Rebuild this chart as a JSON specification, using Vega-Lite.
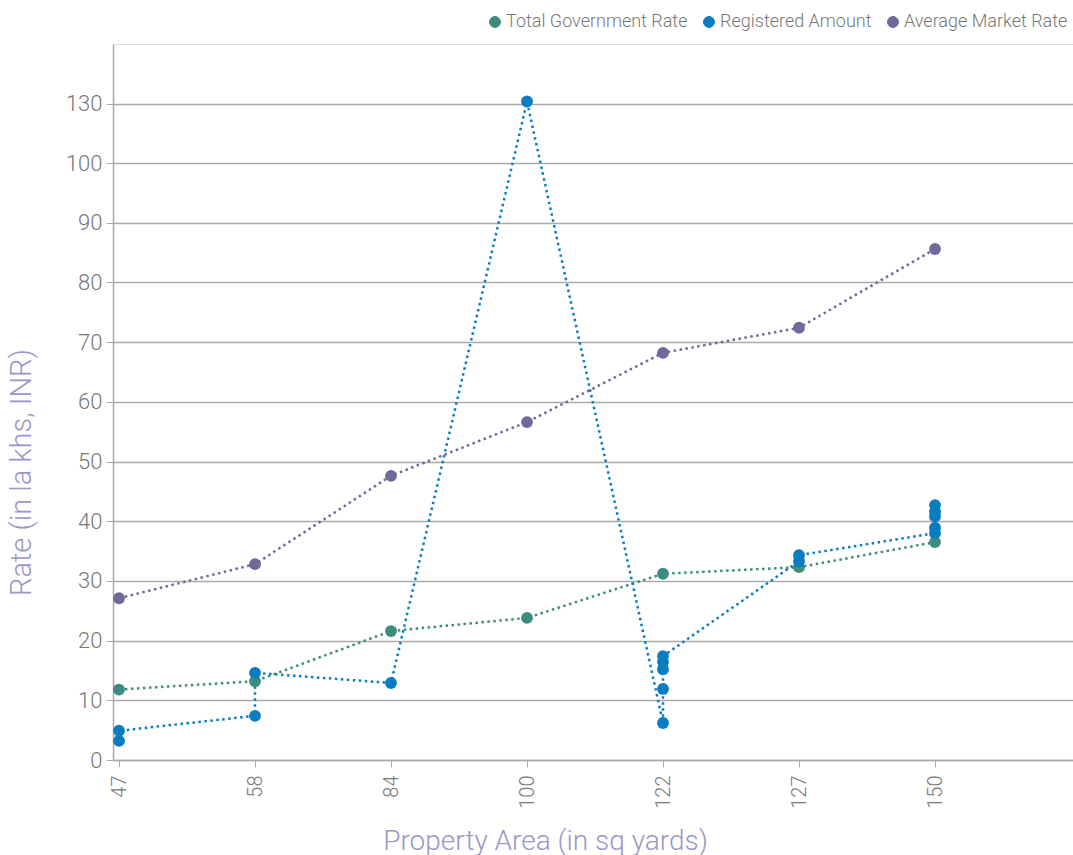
{
  "$schema": "https://vega.github.io/schema/vega-lite/v6.json",
  "width": 960,
  "height": 716,
  "autosize": "none",
  "padding": {"left": 113, "top": 44, "right": 0, "bottom": 95},
  "background": "white",
  "config": {
    "font": "Roboto",
    "view": {"stroke": "#dddddd", "strokeWidth": 1}
  },
  "data": {
    "values": [
      {"area": "47", "series": "Total Government Rate", "rate": 11.8, "i": 0},
      {"area": "58", "series": "Total Government Rate", "rate": 13.2, "i": 1},
      {"area": "84", "series": "Total Government Rate", "rate": 21.6, "i": 2},
      {"area": "100", "series": "Total Government Rate", "rate": 23.8, "i": 3},
      {"area": "122", "series": "Total Government Rate", "rate": 31.2, "i": 4},
      {"area": "127", "series": "Total Government Rate", "rate": 32.3, "i": 5},
      {"area": "150", "series": "Total Government Rate", "rate": 36.5, "i": 6},
      {"area": "47", "series": "Registered Amount", "rate": 3.2, "i": 0},
      {"area": "47", "series": "Registered Amount", "rate": 4.9, "i": 1},
      {"area": "58", "series": "Registered Amount", "rate": 7.4, "i": 2},
      {"area": "58", "series": "Registered Amount", "rate": 14.6, "i": 3},
      {"area": "84", "series": "Registered Amount", "rate": 12.9, "i": 4},
      {"area": "100", "series": "Registered Amount", "rate": 131, "i": 5},
      {"area": "122", "series": "Registered Amount", "rate": 6.2, "i": 6},
      {"area": "122", "series": "Registered Amount", "rate": 11.9, "i": 7},
      {"area": "122", "series": "Registered Amount", "rate": 15.2, "i": 8},
      {"area": "122", "series": "Registered Amount", "rate": 16.4, "i": 9},
      {"area": "122", "series": "Registered Amount", "rate": 17.4, "i": 10},
      {"area": "127", "series": "Registered Amount", "rate": 33.3, "i": 11},
      {"area": "127", "series": "Registered Amount", "rate": 34.3, "i": 12},
      {"area": "150", "series": "Registered Amount", "rate": 38.0, "i": 13},
      {"area": "150", "series": "Registered Amount", "rate": 38.9, "i": 14},
      {"area": "150", "series": "Registered Amount", "rate": 40.8, "i": 15},
      {"area": "150", "series": "Registered Amount", "rate": 41.6, "i": 16},
      {"area": "150", "series": "Registered Amount", "rate": 42.7, "i": 17},
      {"area": "47", "series": "Average Market Rate", "rate": 27.1, "i": 0},
      {"area": "58", "series": "Average Market Rate", "rate": 32.8, "i": 1},
      {"area": "84", "series": "Average Market Rate", "rate": 47.6, "i": 2},
      {"area": "100", "series": "Average Market Rate", "rate": 56.6, "i": 3},
      {"area": "122", "series": "Average Market Rate", "rate": 68.2, "i": 4},
      {"area": "127", "series": "Average Market Rate", "rate": 72.4, "i": 5},
      {"area": "150", "series": "Average Market Rate", "rate": 85.6, "i": 6}
    ]
  },
  "encoding": {
    "x": {
      "field": "area",
      "type": "ordinal",
      "sort": ["47", "58", "84", "100", "122", "127", "150"],
      "scale": {"type": "point", "padding": 0.5294, "align": 0.0417},
      "axis": {
        "title": "Property Area (in sq yards)",
        "titleFontSize": 28,
        "titleFontWeight": 300,
        "titleColor": "#9d96c8",
        "titleX": 432,
        "titleY": 89,
        "titleBaseline": "alphabetic",
        "labelAngle": -90,
        "labelFontSize": 20,
        "labelFontWeight": 300,
        "labelColor": "#777777",
        "labelPadding": 8,
        "tickSize": 7,
        "tickColor": "#aaaaaa",
        "domainColor": "#aaaaaa",
        "domainWidth": 1.5,
        "grid": false
      }
    },
    "y": {
      "field": "rate",
      "type": "quantitative",
      "scale": {"domain": [0, 100, 160], "range": [716, 119, 0]},
      "axis": {
        "values": [0, 10, 20, 30, 40, 50, 60, 70, 80, 90, 100, 130],
        "title": "Rate (in la khs, INR)",
        "titleFontSize": 29,
        "titleFontWeight": 300,
        "titleColor": "#9d96c8",
        "titleX": -92,
        "titleY": 428,
        "titleAngle": -90,
        "titleAlign": "center",
        "titleBaseline": "middle",
        "labelFontSize": 22,
        "labelFontWeight": 300,
        "labelColor": "#777777",
        "labelPadding": 4,
        "tickSize": 7,
        "tickColor": "#aaaaaa",
        "domainColor": "#aaaaaa",
        "domainWidth": 1.5,
        "grid": true,
        "gridColor": "#aaaaaa",
        "gridWidth": 1.5
      }
    },
    "color": {
      "field": "series",
      "type": "nominal",
      "scale": {
        "domain": ["Total Government Rate", "Registered Amount", "Average Market Rate"],
        "range": ["#3d8c7f", "#0a7cc1", "#6e6a9a"]
      },
      "legend": {
        "title": null,
        "orient": "none",
        "direction": "horizontal",
        "legendX": 373,
        "legendY": -31,
        "columns": 3,
        "columnPadding": 12,
        "symbolType": "circle",
        "symbolSize": 120,
        "labelFontSize": 18,
        "labelFontWeight": 300,
        "labelColor": "#777777",
        "labelOffset": 2,
        "labelLimit": 0,
        "encode": {
          "symbols": {
            "enter": {
              "fill": {"signal": "datum.label === 'Total Government Rate' ? '#9db4c3' : datum.label === 'Registered Amount' ? '#0a7cc1' : '#6e6a9a'"},
              "stroke": {"signal": "datum.label === 'Average Market Rate' ? '#6e6a9a' : '#c9b94f'"}
            },
            "update": {
              "fill": {"signal": "datum.label === 'Total Government Rate' ? '#9db4c3' : datum.label === 'Registered Amount' ? '#0a7cc1' : '#6e6a9a'"},
              "stroke": {"signal": "datum.label === 'Average Market Rate' ? '#6e6a9a' : '#c9b94f'"},
              "strokeWidth": {"value": 1},
              "opacity": {"value": 1}
            }
          }
        }
      }
    }
  },
  "layer": [
    {
      "mark": {"type": "line", "strokeWidth": 2.5, "strokeDash": [2.5, 3.5]},
      "encoding": {"order": {"field": "i", "type": "quantitative"}}
    },
    {
      "mark": {"type": "point", "filled": true, "opacity": 1, "size": 140, "shape": "circle"}
    }
  ]
}
